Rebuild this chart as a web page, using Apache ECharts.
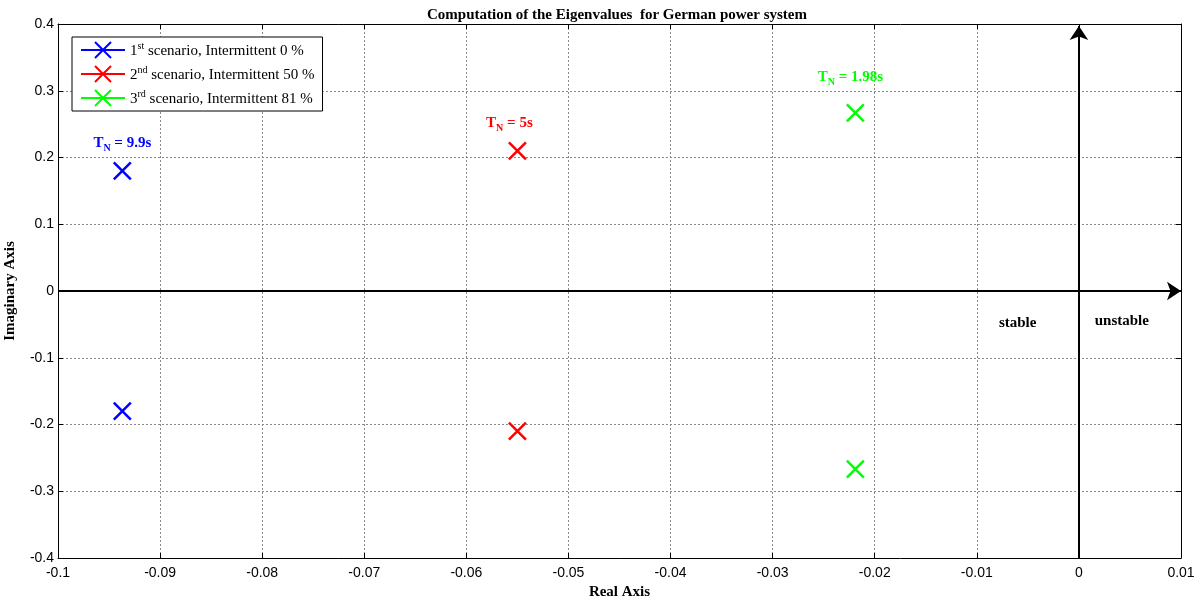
<!DOCTYPE html>
<html>
<head>
<meta charset="utf-8">
<script src="https://cdn.jsdelivr.net/npm/echarts@6/dist/echarts.min.js"></script>
<style>html,body{margin:0;padding:0;background:#fff;}#c{width:1197px;height:598px;}</style>
</head>
<body>
<div id="c"></div>
<script>
// ---- data ----
const ordinals = ['1', '2', '3'];
const ordinalSuffix = ['st', 'nd', 'rd'];
const intermittentShare = [0, 50, 81];
const realParts = [-0.0937, -0.0550, -0.0219];
const imagParts = [0.180, 0.210, 0.267];
const periodLabels = ['9.9s', '5s', '1.98s'];
const seriesColors = ['#0000ff', '#ff0000', '#00ff00'];
const xTicks = [-0.1, -0.09, -0.08, -0.07, -0.06, -0.05, -0.04, -0.03, -0.02, -0.01, 0, 0.01];
const yTicks = [-0.4, -0.3, -0.2, -0.1, 0, 0.1, 0.2, 0.3, 0.4];
const regionLabels = ['stable', 'unstable'];
const regionAnchors = [[-0.0060, -0.048], [0.0042, -0.045]];

const serif = 'Liberation Serif';
const sans = 'Liberation Sans';
const crossPath = 'path://M0,0L16,16M16,0L0,16';
const legendIcon = 'path://M0,8L44,8M14,0L30,16M30,0L14,16';
const labelOffsets = [[0, -28], [-8, -28], [-5, -36]];

const names = ordinals.map((o, i) => o + ordinalSuffix[i] + ' scenario, Intermittent ' + intermittentShare[i] + ' %');

function fmt(v) { return String(Number(v.toFixed(2))); }

const scatterSeries = names.map((n, i) => ({
  name: n,
  type: 'scatter',
  symbol: crossPath,
  symbolSize: 17,
  itemStyle: { color: seriesColors[i], borderColor: seriesColors[i], borderWidth: 2.5, opacity: 1 },
  z: 5,
  data: [
    {
      value: [realParts[i], imagParts[i]],
      label: {
        show: true,
        position: 'inside',
        offset: labelOffsets[i],
        formatter: '{a|T}{b|N}{a| = ' + periodLabels[i] + '}',
        rich: {
          a: { fontFamily: serif, fontWeight: 'bold', fontSize: 15, color: seriesColors[i], lineHeight: 14, verticalAlign: 'top' },
          b: { fontFamily: serif, fontWeight: 'bold', fontSize: 10, color: seriesColors[i], lineHeight: 10, padding: [8, 0, 0, 0], verticalAlign: 'top' }
        }
      }
    },
    { value: [realParts[i], -imagParts[i]] }
  ]
}));

const axisSeries = {
  name: 'axes',
  type: 'line',
  data: [],
  silent: true,
  z: 4,
  markLine: {
    silent: true,
    symbol: ['none', 'arrow'],
    symbolSize: [14, 14],
    lineStyle: { color: '#000', width: 2, type: 'solid' },
    label: { show: false },
    animation: false,
    data: [
      [{ coord: [xTicks[0], 0] }, { coord: [xTicks[xTicks.length - 1], 0] }],
      [{ coord: [0, yTicks[0]] }, { coord: [0, 0.397] }]
    ]
  },
  markPoint: {
    symbol: 'rect',
    symbolSize: 1,
    itemStyle: { color: 'rgba(0,0,0,0)' },
    label: { show: true, position: 'inside', color: '#000', fontFamily: serif, fontWeight: 'bold', fontSize: 15, formatter: p => p.name },
    data: regionLabels.map((t, i) => ({ name: t, coord: regionAnchors[i] }))
  }
};

const chart = echarts.init(document.getElementById('c'), null, { renderer: 'canvas' });
chart.setOption({
  animation: false,
  backgroundColor: '#fff',
  title: {
    text: 'Computation of the Eigenvalues  for German power system',
    left: 612, top: 3, textAlign: 'center',
    textStyle: { fontFamily: serif, fontWeight: 'bold', fontSize: 15, color: '#000' }
  },
  grid: { left: 58, right: 16, top: 24, bottom: 40, outerBoundsMode: 'none', containLabel: false },
  legend: {
    orient: 'vertical',
    left: 72, top: 37,
    padding: [4, 8, 4, 8],
    itemGap: 6,
    itemWidth: 44, itemHeight: 16,
    borderColor: '#000', borderWidth: 1, backgroundColor: '#fff',
    selectedMode: false,
    data: names.map((n, i) => ({
      name: n, icon: legendIcon,
      itemStyle: { color: seriesColors[i], borderColor: seriesColors[i], borderWidth: 2 }
    })),
    formatter: function (n) {
      const i = names.indexOf(n);
      return '{t|' + ordinals[i] + '}{s|' + ordinalSuffix[i] + '}{t| scenario, Intermittent ' + intermittentShare[i] + ' %}';
    },
    textStyle: {
      rich: {
        t: { fontFamily: serif, fontSize: 15, color: '#000', lineHeight: 17, verticalAlign: 'bottom' },
        s: { fontFamily: serif, fontSize: 10, color: '#000', lineHeight: 10, verticalAlign: 'top' }
      }
    }
  },
  xAxis: [{
    type: 'value', min: xTicks[0], max: xTicks[xTicks.length - 1], interval: 0.01,
    name: 'Real Axis', nameLocation: 'middle', nameGap: 27, nameMoveOverlap: false,
    nameTextStyle: { fontFamily: serif, fontWeight: 'bold', fontSize: 15, color: '#000' },
    axisLine: { onZero: false, lineStyle: { color: '#000', width: 1 } },
    axisTick: { inside: true, length: 5, lineStyle: { color: '#000' } },
    axisLabel: { fontFamily: sans, fontSize: 14, color: '#000', margin: 8, formatter: fmt },
    splitLine: { show: true, lineStyle: { color: '#8a8a8a', type: [2, 2], width: 1 } }
  }, {
    type: 'value', position: 'top', min: xTicks[0], max: xTicks[xTicks.length - 1], interval: 0.01,
    axisLine: { onZero: false, lineStyle: { color: '#000', width: 1 } },
    axisTick: { inside: true, length: 5, lineStyle: { color: '#000' } },
    axisLabel: { show: false }, splitLine: { show: false }
  }],
  yAxis: [{
    type: 'value', min: yTicks[0], max: yTicks[yTicks.length - 1], interval: 0.1,
    name: 'Imaginary Axis', nameLocation: 'middle', nameGap: 40, nameRotate: 90, nameMoveOverlap: false,
    nameTextStyle: { fontFamily: serif, fontWeight: 'bold', fontSize: 15, color: '#000', padding: [12, 0, 0, 0] },
    axisLine: { onZero: false, lineStyle: { color: '#000', width: 1 } },
    axisTick: { inside: true, length: 5, lineStyle: { color: '#000' } },
    axisLabel: { fontFamily: sans, fontSize: 14, color: '#000', margin: 4, formatter: fmt },
    splitLine: { show: true, lineStyle: { color: '#8a8a8a', type: [2, 2], width: 1 } }
  }, {
    type: 'value', position: 'right', min: yTicks[0], max: yTicks[yTicks.length - 1], interval: 0.1,
    axisLine: { onZero: false, lineStyle: { color: '#000', width: 1 } },
    axisTick: { inside: true, length: 5, lineStyle: { color: '#000' } },
    axisLabel: { show: false }, splitLine: { show: false }
  }],
  series: [axisSeries].concat(scatterSeries)
});
</script>
</body>
</html>
